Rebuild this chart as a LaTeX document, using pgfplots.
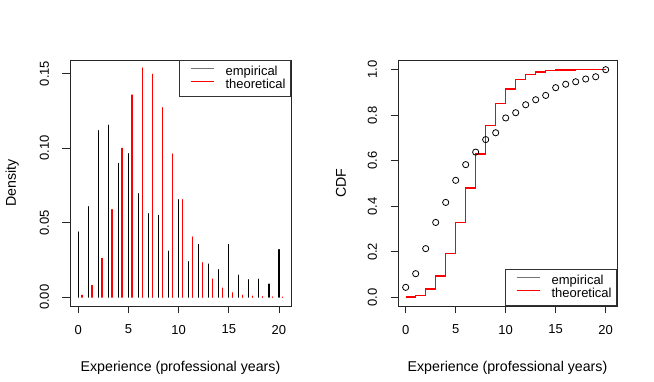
\documentclass[border=0pt]{standalone}
\usepackage{fontspec}
\setmainfont{Liberation Sans}
\usepackage{pgfplots}
\pgfplotsset{compat=1.18}
\usepackage{pgfplotstable}

\definecolor{rred}{RGB}{255,0,0}

\pgfplotstableread{
x emp theo
0 0.0438 0.0013
1 0.0607 0.0079
2 0.1117 0.0260
3 0.1153 0.0587
4 0.0897 0.0998
5 0.0962 0.1355
6 0.0694 0.1537
7 0.0560 0.1494
8 0.0548 0.1270
9 0.0308 0.0960
10 0.0654 0.0654
11 0.0238 0.0404
12 0.0353 0.0231
13 0.0222 0.0121
14 0.0184 0.0061
15 0.0353 0.0029
16 0.0148 0.0013
17 0.0117 0.0007
18 0.0121 0.0003
19 0.0088 0.0001
20 0.0319 0.00005
}\densdata

\pgfplotstableread{
x emp theo
0 0.044 0.001
1 0.104 0.009
2 0.214 0.036
3 0.329 0.094
4 0.417 0.193
5 0.514 0.328
6 0.583 0.480
7 0.638 0.630
8 0.693 0.754
9 0.723 0.851
10 0.788 0.915
11 0.811 0.956
12 0.846 0.978
13 0.868 0.990
14 0.887 0.996
15 0.921 0.998
16 0.936 0.999
17 0.947 1.000
18 0.959 1.000
19 0.969 1.000
20 1.000 1.000
}\cdfdata

\pgfplotsset{
  rpanel/.style={
    scale only axis,
    anchor=south west,
    height=246pt,
    axis line style={black!85, line width=0.8pt},
    tick style={black!85, line width=0.8pt},
    tick align=outside,
    major tick length=7.5pt,
    xtick pos=bottom, ytick pos=left,
    xtick={0,5,10,15,20},
    font=\fontsize{13}{15}\selectfont,
    label style={font=\fontsize{14.2}{16}\selectfont},
    /pgf/number format/assume math mode=true,
    xticklabel style={yshift=-8pt},
    yticklabel style={xshift=-10pt, rotate=90, anchor=south},
    legend cell align=left,
    legend image code/.code={
      \path[draw=none] (0pt,0pt) -- (41pt,0pt);
      \draw[##1] (6pt,3.5pt) -- (29pt,3.5pt);
    },
    legend style={draw=black!80, line width=0.8pt, inner xsep=5pt, inner ysep=6pt,
      font=\fontsize{13}{15}\selectfont, row sep=1.5pt, column sep=0pt,
      nodes={inner sep=0pt, text height=9pt, text depth=2.5pt}},
  },
}

\begin{document}
\begin{tikzpicture}
\useasboundingbox (0pt,0pt) rectangle (654pt,382pt);

\begin{axis}[rpanel,
  at={(70pt,76pt)}, width=221pt,
  xmin=-0.82, xmax=21.2, ymin=-0.0059, ymax=0.159,
  ytick={0,0.05,0.10,0.15},
  yticklabel style={/pgf/number format/.cd, fixed, fixed zerofill, precision=2},
  xlabel={Experience (professional years)},
  ylabel={Density},
  xlabel style={at={(axis description cs:0.5,-0.252)}, anchor=center},
  ylabel style={at={(axis description cs:-0.262,0.5)}, anchor=center},
  legend style={at={(1,1)}, anchor=north east},
]
\addplot[forget plot, ycomb, black, line width=1.2pt, line cap=round] table[x=x, y=emp] {\densdata};
\addplot[forget plot, ycomb, rred, line width=1.3pt, line cap=round] table[x expr=\thisrow{x}+0.37, y=theo] {\densdata};
\addlegendimage{black!55, line width=1.2pt}
\addlegendentry{empirical}
\addlegendimage{rred, line width=1.2pt}
\addlegendentry{theoretical}
\end{axis}

\begin{axis}[rpanel,
  at={(398pt,76pt)}, width=219pt,
  xmin=-0.77, xmax=21.13, ymin=-0.038, ymax=1.0426,
  ytick={0,0.2,0.4,0.6,0.8,1.0},
  yticklabel style={/pgf/number format/.cd, fixed, fixed zerofill, precision=1},
  xlabel={Experience (professional years)},
  ylabel={CDF},
  xlabel style={at={(axis description cs:0.5,-0.252)}, anchor=center},
  ylabel style={at={(axis description cs:-0.26,0.5)}, anchor=center},
  legend style={at={(1,0)}, anchor=south east},
]
\addplot[forget plot, const plot mark left, draw=rred, line width=1.3pt, mark=none] table[x=x, y=theo] {\cdfdata};
\addplot[forget plot, only marks, mark=o, mark size=3.1pt, black, line width=0.8pt] table[x=x, y=emp] {\cdfdata};
\addlegendimage{black!55, line width=1.2pt}
\addlegendentry{empirical}
\addlegendimage{rred, line width=1.2pt}
\addlegendentry{theoretical}
\end{axis}
\end{tikzpicture}
\end{document}
